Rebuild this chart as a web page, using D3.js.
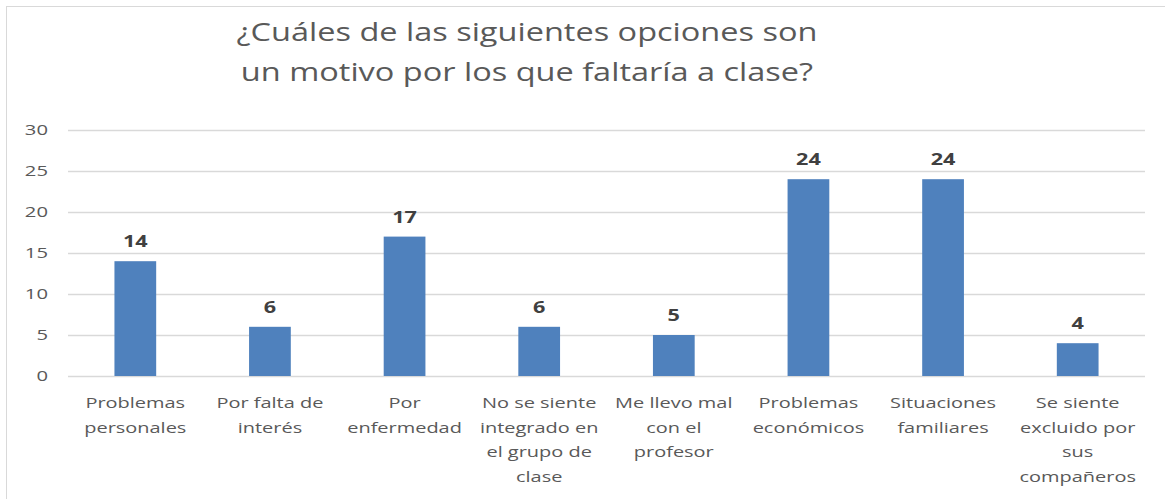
<!DOCTYPE html>
<html>
<head>
<meta charset="utf-8">
<script src="https://cdn.jsdelivr.net/npm/d3@7"></script>
<style>
  body { margin: 0; background: #fff; }
  text { font-family: "Open Sans", "Noto Sans", sans-serif; }
</style>
</head>
<body>
<div id="chart"></div>
<script>
const categories = [
  ["Problemas", "personales"],
  ["Por falta de", "interés"],
  ["Por", "enfermedad"],
  ["No se siente", "integrado en", "el grupo de", "clase"],
  ["Me llevo mal", "con el", "profesor"],
  ["Problemas", "económicos"],
  ["Situaciones", "familiares"],
  ["Se siente", "excluido por", "sus", "compañeros"]
];
const values = [14, 6, 17, 6, 5, 24, 24, 4];
const yTicks = [0, 5, 10, 15, 20, 25, 30];
const titleLines = ["¿Cuáles de las siguientes opciones son", "un motivo por los que faltaría a clase?"];

const width = 1165, height = 499;
const margin = {left: 68, right: 20, top: 130, bottom: 123};

// the original text is rendered wide, so stretch glyphs horizontally
function stretch(sel, f) {
  sel.each(function() {
    const w = this.getComputedTextLength();
    d3.select(this)
      .attr("textLength", w * f)
      .attr("lengthAdjust", "spacingAndGlyphs");
  });
}

const svg = d3.select("#chart").append("svg")
  .attr("width", width)
  .attr("height", height);

// chart frame
svg.append("rect")
  .attr("x", 6.5).attr("y", 6.5)
  .attr("width", width - 4).attr("height", height - 4)
  .attr("fill", "none")
  .attr("stroke", "#d9d9d9");

const x = d3.scaleBand()
  .domain(d3.range(categories.length))
  .range([margin.left, width - margin.right])
  .paddingInner(0.69)
  .paddingOuter(0.345);

const y = d3.scaleLinear()
  .domain([0, 30])
  .range([height - margin.bottom, margin.top]);

// gridlines
svg.append("g")
  .selectAll("line")
  .data(yTicks)
  .join("line")
  .attr("x1", margin.left).attr("x2", width - margin.right)
  .attr("y1", d => Math.round(y(d)) + 0.5)
  .attr("y2", d => Math.round(y(d)) + 0.5)
  .attr("stroke", "#d9d9d9")
  .attr("stroke-width", 1.3);

// y axis labels
const yAxis = svg.append("g")
  .attr("transform", `translate(${margin.left},0)`)
  .call(d3.axisLeft(y).tickValues(yTicks).tickSize(0).tickPadding(20));
yAxis.select(".domain").remove();
yAxis.selectAll("text")
  .attr("fill", "#595959")
  .attr("font-size", "15px")
  .style("font-family", "'Open Sans', sans-serif")
  .call(stretch, 1.35);

// bars
svg.append("g")
  .selectAll("rect")
  .data(values)
  .join("rect")
  .attr("x", (d, i) => x(i))
  .attr("y", d => y(d))
  .attr("width", x.bandwidth())
  .attr("height", d => y(0) - y(d))
  .attr("fill", "#4f81bd");

// value labels
svg.append("g")
  .selectAll("text")
  .data(values)
  .join("text")
  .attr("x", (d, i) => x(i) + x.bandwidth() / 2)
  .attr("y", d => y(d) - 14)
  .attr("text-anchor", "middle")
  .attr("font-size", "16px")
  .attr("font-weight", "bold")
  .attr("fill", "#404040")
  .text(d => d)
  .call(stretch, 1.35);

// category labels, one text per line
const catLines = categories.flatMap((lines, i) => lines.map((l, j) => ({l, i, j})));
svg.append("g")
  .selectAll("text")
  .data(catLines)
  .join("text")
  .attr("x", d => x(d.i) + x.bandwidth() / 2)
  .attr("y", d => 408 + d.j * 24.5)
  .attr("text-anchor", "middle")
  .attr("font-size", "15px")
  .attr("fill", "#595959")
  .text(d => d.l)
  .call(stretch, 1.33);

// title
svg.append("g")
  .selectAll("text")
  .data(titleLines)
  .join("text")
  .attr("x", 527)
  .attr("y", (d, i) => 41 + i * 40)
  .attr("text-anchor", "middle")
  .attr("font-size", "26px")
  .attr("fill", "#595959")
  .text(d => d)
  .call(stretch, 1.25);
</script>
</body>
</html>
